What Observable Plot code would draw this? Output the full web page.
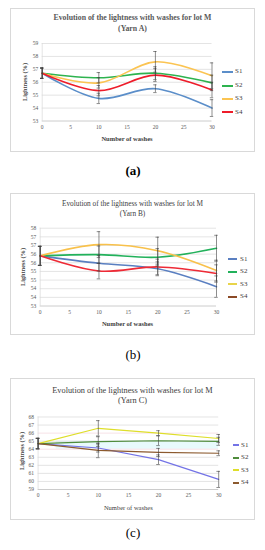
<!DOCTYPE html>
<html><head><meta charset="utf-8">
<script src="https://cdn.jsdelivr.net/npm/d3@7"></script>
<script src="https://cdn.jsdelivr.net/npm/@observablehq/plot@0.6"></script>
<style>
body{margin:0;background:#fff;}
#root{position:relative;width:265px;height:550px;overflow:hidden;font-family:"Liberation Serif","DejaVu Serif",serif;background:#fff;}
.box{position:absolute;border:1px solid #d9d9d9;box-sizing:border-box;background:#fff;}
.t{position:absolute;white-space:nowrap;line-height:1;}
.c{transform:translate(-50%,-50%);}
.plot{position:absolute;left:0;}
</style></head><body><div id="root"></div>
<script>
// ---------- shared ----------
const washes = [0, 10, 20, 30];
const xTicks = [0, 5, 10, 15, 20, 25, 30];
const seriesNames = ["S1", "S2", "S3", "S4"];

// ---------- Yarn A ----------
const yarnA_S1 = [56.7, 54.75, 55.5, 54.0];
const yarnA_S2 = [56.7, 56.35, 56.7, 55.95];
const yarnA_S3 = [56.7, 55.95, 57.58, 56.5];
const yarnA_S4 = [56.7, 55.35, 56.55, 55.4];
const yarnA_errS1 = [0.4, 0.4, 0.3, 0.65];
const yarnA_errS2 = [0.4, 0.4, 0.5, 0.6];
const yarnA_errS3 = [0.4, 0.4, 0.8, 1.0];
const yarnA_errS4 = [0.4, 0.4, 0.5, 0.6];
const yarnA_yTicks = [53, 54, 55, 56, 57, 58, 59];
const yarnA_colors = ["#5b8ec9", "#2eb34f", "#fbc452", "#ee1c2a"];
const yarnA_legendColors = ["#5b8ec9", "#2eb34f", "#fbc452", "#ee1c2a"];

// ---------- Yarn B ----------
const yarnB_S1 = [55.9, 55.47, 55.15, 54.12];
const yarnB_S2 = [55.9, 55.97, 55.82, 56.34];
const yarnB_S3 = [55.9, 56.55, 56.2, 55.05];
const yarnB_S4 = [55.9, 55.02, 55.26, 54.88];
const yarnB_errS1 = [0.55, 0.45, 0.4, 0.62];
const yarnB_errS2 = [0.55, 0.5, 0.5, 0.75];
const yarnB_errS3 = [0.55, 0.75, 0.78, 0.6];
const yarnB_errS4 = [0.55, 0.45, 0.45, 0.5];
const yarnB_yTicks = [53, 53.5, 54, 54.5, 55, 55.5, 56, 56.5, 57, 57.5];
const yarnB_colors = ["#5a7fc1", "#22b15b", "#f8c14b", "#ee2a36"];
const yarnB_legendColors = ["#5a7fc1", "#22b15b", "#e8d44a", "#8b4a26"];

// ---------- Yarn C ----------
const yarnC_S1 = [64.7, 64.15, 62.7, 60.25];
const yarnC_S2 = [64.7, 64.95, 65.05, 64.98];
const yarnC_S3 = [64.7, 66.6, 66.0, 65.33];
const yarnC_S4 = [64.7, 63.85, 63.6, 63.5];
const yarnC_errS1 = [0.65, 0.5, 0.6, 1.0];
const yarnC_errS2 = [0.65, 0.6, 0.6, 0.5];
const yarnC_errS3 = [0.65, 0.95, 0.3, 0.5];
const yarnC_errS4 = [0.65, 0.9, 0.5, 0.3];
const yarnC_yTicks = [59, 60, 61, 62, 63, 64, 65, 66, 67, 68];
const yarnC_colors = ["#7373e6", "#4f8c3c", "#dede2a", "#8c5a2e"];
const yarnC_legendColors = ["#7373e6", "#4f8c3c", "#dede2a", "#8c5a2e"];

const root = document.getElementById("root");
function el(cls, txt, style) {
  const d = document.createElement("div");
  d.className = cls;
  if (txt != null) d.textContent = txt;
  Object.assign(d.style, style);
  root.appendChild(d);
  return d;
}

function rowsOf(vals, errs) {
  const rows = [];
  vals.forEach((arr, i) => arr.forEach((v, j) => rows.push({s: seriesNames[i], x: washes[j], y: v, e: errs[i][j]})));
  return rows;
}

function panel(cfg) {
  el("box", null, {left: "10px", top: cfg.boxTop + "px", width: "245px", height: (cfg.boxBottom - cfg.boxTop) + "px"});
  cfg.titles.forEach((t, i) => el("t c", t, {left: "132.5px", top: cfg.titleY[i] + "px", fontSize: cfg.titleSize + "px", fontWeight: cfg.titleWeight, color: cfg.titleColor}));
  const rows = rowsOf(cfg.values, cfg.errors);
  const [y0, y1] = [cfg.yTicks[0], cfg.yTicks[cfg.yTicks.length - 1]];
  const marks = [];
  if (cfg.extra) marks.push(...cfg.extra);
  marks.push(
    Plot.ruleY(cfg.yTicks.slice(1), {stroke: d => (cfg.pinkGrid && cfg.pinkGrid.includes(d)) ? "#f5d6dc" : "#d9d9d9", strokeWidth: 0.7}),
    Plot.ruleX([0], {stroke: "#d9d9d9", strokeWidth: 0.7}),
    Plot.ruleY([y0], {stroke: "#bfbfbf", strokeWidth: 0.8}),
    Plot.line(rows, {x: "x", y: "y", z: "s", stroke: "s", curve: cfg.curve, strokeWidth: cfg.lineWidth}),
    Plot.ruleX(rows, {x: "x", y1: d => d.y - d.e, y2: d => d.y + d.e, stroke: "#404040", strokeWidth: 0.6}),
    Plot.ruleY(rows, {y: d => d.y + d.e, x1: d => d.x - 0.3, x2: d => d.x + 0.3, stroke: "#404040", strokeWidth: 0.6}),
    Plot.ruleY(rows, {y: d => d.y - d.e, x1: d => d.x - 0.3, x2: d => d.x + 0.3, stroke: "#404040", strokeWidth: 0.6})
  );
  const p = Plot.plot({
    width: 265, height: cfg.h,
    marginTop: cfg.mt, marginBottom: cfg.mb, marginLeft: cfg.ml, marginRight: cfg.mr,
    style: {fontSize: "5.5px", fontFamily: "Liberation Serif, serif", color: "#595959", background: "transparent"},
    x: {domain: [0, 30], ticks: xTicks, tickSize: 0, tickPadding: 4, label: null},
    y: {domain: [y0, y1], ticks: cfg.yTicks, tickSize: 0, tickPadding: 4, label: null, tickFormat: cfg.tickFormat},
    color: {domain: seriesNames, range: cfg.colors},
    marks
  });
  p.classList.add("plot");
  p.style.top = cfg.top + "px";
  root.appendChild(p);
  el("t c", "Lightness (%)", {left: cfg.yTitle[0] + "px", top: cfg.yTitle[1] + "px", fontSize: "6.3px", fontWeight: "bold", color: "#404040", transform: "translate(-50%,-50%) rotate(-90deg)"});
  el("t c", "Number of washes", {left: cfg.xTitle[0] + "px", top: cfg.xTitle[1] + "px", fontSize: "6.5px", fontWeight: cfg.xTitleWeight, color: "#404040"});
  seriesNames.forEach((s, i) => {
    el("t", null, {left: Math.round(cfg.leg.x0) + "px", top: Math.round(cfg.leg.y[i] - 0.75) + "px", width: Math.round(cfg.leg.x1 - cfg.leg.x0) + "px", height: "1.5px", background: cfg.legendColors[i]});
    el("t", s, {left: cfg.leg.tx + "px", top: (cfg.leg.y[i] - 3.5) + "px", fontSize: "7px", color: "#404040"});
  });
  el("t c", cfg.caption, {left: "133px", top: cfg.capY + "px", fontSize: "13px", fontWeight: cfg.capWeight, color: "#000"});
}

panel({
  boxTop: 8, boxBottom: 152, top: 0, h: 152, mt: 43, mb: 31.5, ml: 41.7, mr: 53.5,
  titles: ["Evolution of the lightness with washes for lot M", "(Yarn A)"], titleY: [18.3, 29.3],
  titleSize: 7.8, titleWeight: "bold", titleColor: "#595959",
  values: [yarnA_S1, yarnA_S2, yarnA_S3, yarnA_S4], errors: [yarnA_errS1, yarnA_errS2, yarnA_errS3, yarnA_errS4],
  yTicks: yarnA_yTicks, tickFormat: d => String(d), colors: yarnA_colors, legendColors: yarnA_legendColors,
  curve: "catmull-rom", lineWidth: 1.6,
  yTitle: [25, 82], xTitle: [127, 139], xTitleWeight: "bold",
  leg: {x0: 222, x1: 233, tx: 235, y: [71.7, 85.3, 98.7, 112]},
  caption: "(a)", capY: 170, capWeight: "bold"
});

panel({
  boxTop: 193, boxBottom: 335, top: 190, h: 146, mt: 37.7, mb: 30.5, ml: 39.7, mr: 49,
  titles: ["Evolution of the lightness with washes for lot M", "(Yarn B)"], titleY: [204, 214],
  titleSize: 7.3, titleWeight: "normal", titleColor: "#404040",
  values: [yarnB_S1, yarnB_S2, yarnB_S3, yarnB_S4], errors: [yarnB_errS1, yarnB_errS2, yarnB_errS3, yarnB_errS4],
  yTicks: yarnB_yTicks, tickFormat: d => String(Math.round(d)), colors: yarnB_colors, legendColors: yarnB_legendColors,
  curve: "catmull-rom", lineWidth: 1.6,
  yTitle: [23, 266.7], xTitle: [127.5, 324], xTitleWeight: "bold",
  leg: {x0: 228.3, x1: 237.3, tx: 240, y: [259, 271.3, 284, 296.7]},
  caption: "(b)", capY: 354, capWeight: "normal"
});

panel({
  boxTop: 378, boxBottom: 520, top: 376, h: 146, mt: 40.5, mb: 33, ml: 37.6, mr: 46.8,
  titles: ["Evolution of the lightness with washes for lot M", "(Yarn C)"], titleY: [390.7, 401],
  titleSize: 8.3, titleWeight: "normal", titleColor: "#404040",
  values: [yarnC_S1, yarnC_S2, yarnC_S3, yarnC_S4], errors: [yarnC_errS1, yarnC_errS2, yarnC_errS3, yarnC_errS4],
  yTicks: yarnC_yTicks, tickFormat: d => String(d), colors: yarnC_colors, legendColors: yarnC_legendColors,
  curve: "linear", lineWidth: 1.2, pinkGrid: [64, 66],
  extra: [Plot.rect([{x1: 3, x2: 30, y1: 64, y2: 65}], {x1: "x1", x2: "x2", y1: "y1", y2: "y2", fill: "#e8fafc"})],
  yTitle: [21.7, 450.8], xTitle: [128.3, 508.3], xTitleWeight: "normal",
  leg: {x0: 233, x1: 239.3, tx: 241, y: [445, 457.3, 470, 482.7]},
  caption: "(c)", capY: 531.7, capWeight: "normal"
});
</script></body></html>
